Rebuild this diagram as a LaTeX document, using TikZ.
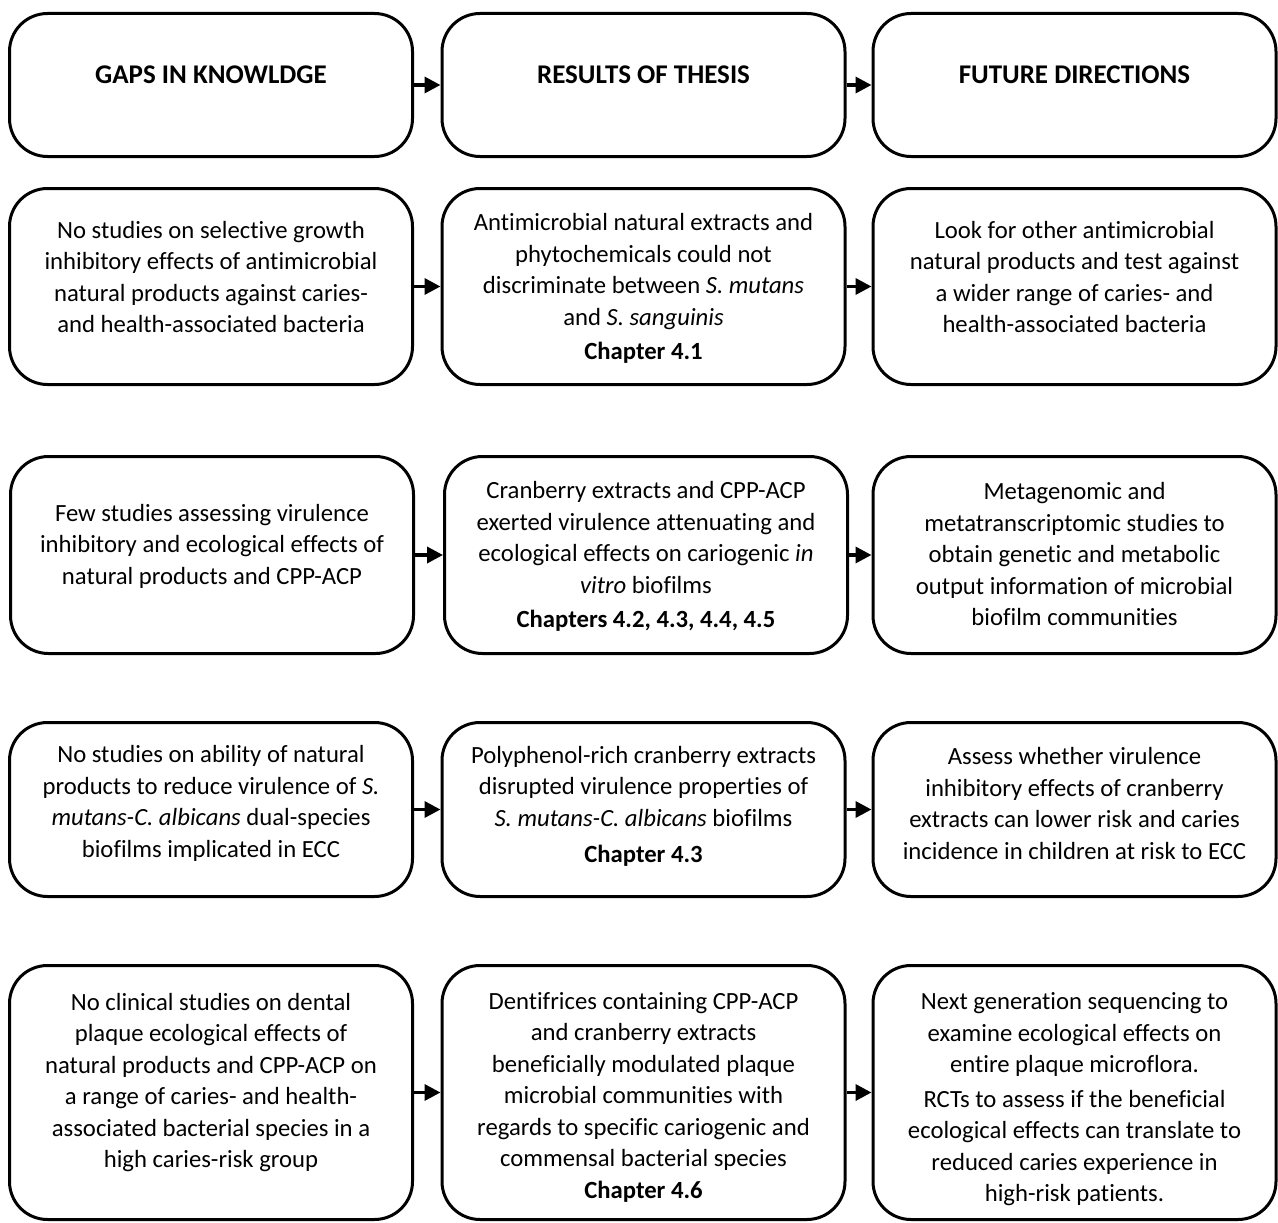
\documentclass[tikz,border=0pt]{standalone}
\usepackage{fontspec}
\setmainfont{Carlito}[Ligatures={NoCommon}]
\usetikzlibrary{arrows.meta}

\begin{document}
\begin{tikzpicture}[x=1pt,y=1pt]
            \tikzstyle{every node}+=[inner sep=0pt]
            \tikzstyle{box}=[draw=black, line width=3pt, rounded corners=38pt, minimum width=403pt]
            \tikzstyle{txt}=[align=center, font=\fontsize{24.7}{31.5}\selectfont]
            \tikzstyle{head}=[font=\fontsize{27}{31.5}\selectfont\bfseries]
            \tikzstyle{link}=[line width=3.5pt, -{Triangle[length=16pt,width=16pt]}]
            \useasboundingbox (0,0) rectangle (1278,-1223);
            % headings
            \node [box, minimum height=143pt] (gaps) at (211,-85) {};
            \node [head] (gapst) at (211,-75) {GAPS IN KNOWLDGE};
            \node [box, minimum height=143pt] (results) at (643.5,-85) {};
            \node [head] (resultst) at (643.5,-75) {RESULTS OF THESIS};
            \node [box, minimum height=143pt] (future) at (1074.5,-85) {};
            \node [head] (futuret) at (1074.5,-75) {FUTURE DIRECTIONS};
            \draw [link] (gaps.east) -- (results.west);
            \draw [link] (results.east) -- (future.west);
            % row 1
            \node [box, minimum height=196pt] (gapA) at (211,-286.5) {};
            \node [txt] (gapAt) at (211,-277) {No studies on selective growth\\inhibitory effects of antimicrobial\\natural products against caries-\\and health-associated bacteria};
            \node [box, minimum height=196pt] (resA) at (643.5,-286.5) {};
            \node [txt] (resAt) at (643.5,-288.5) {Antimicrobial natural extracts and\\phytochemicals could not\\discriminate between \textit{S. mutans}\\and \textit{S. sanguinis}\\[3pt]\textbf{Chapter 4.1}};
            \node [box, minimum height=196pt] (futA) at (1074.5,-286.5) {};
            \node [txt] (futAt) at (1074.5,-277) {Look for other antimicrobial\\natural products and test against\\a wider range of caries- and\\health-associated bacteria};
            \draw [link] (gapA.east) -- (resA.west);
            \draw [link] (resA.east) -- (futA.west);
            % row 2
            \node [box, minimum height=197pt] (gapB) at (212,-555) {};
            \node [txt] (gapBt) at (212,-546) {Few studies assessing virulence\\inhibitory and ecological effects of\\natural products and CPP-ACP};
            \node [box, minimum height=197pt] (resB) at (646,-555) {};
            \node [txt] (resBt) at (646,-556.5) {Cranberry extracts and CPP-ACP\\exerted virulence attenuating and\\ecological effects on cariogenic \textit{in}\\\textit{vitro} biofilms\\[3pt]\textbf{Chapters 4.2, 4.3, 4.4, 4.5}};
            \node [box, minimum height=197pt] (futB) at (1074.5,-555) {};
            \node [txt] (futBt) at (1074.5,-554.5) {Metagenomic and\\metatranscriptomic studies to\\obtain genetic and metabolic\\output information of microbial\\biofilm communities};
            \draw [link] (gapB.east) -- (resB.west);
            \draw [link] (resB.east) -- (futB.west);
            % row 3
            \node [box, minimum height=174pt] (gapC) at (211,-809.5) {};
            \node [txt] (gapCt) at (211,-803.5) {No studies on ability of natural\\products to reduce virulence of \textit{S.}\\\textit{mutans-C. albicans} dual-species\\biofilms implicated in ECC};
            \node [box, minimum height=174pt] (resC) at (643.5,-809.5) {};
            \node [txt] (resCt) at (643.5,-806.5) {Polyphenol-rich cranberry extracts\\disrupted virulence properties of\\\textit{S. mutans-C. albicans} biofilms\\[5pt]\textbf{Chapter 4.3}};
            \node [box, minimum height=174pt] (futC) at (1074.5,-809.5) {};
            \node [txt] (futCt) at (1074.5,-803.5) {Assess whether virulence\\inhibitory effects of cranberry\\extracts can lower risk and caries\\incidence in children at risk to ECC};
            \draw [link] (gapC.east) -- (resC.west);
            \draw [link] (resC.east) -- (futC.west);
            % row 4
            \node [box, minimum height=254pt] (gapD) at (211,-1092.5) {};
            \node [txt] (gapDt) at (211,-1082.5) {No clinical studies on dental\\plaque ecological effects of\\natural products and CPP-ACP on\\a range of caries- and health-\\associated bacterial species in a\\high caries-risk group};
            \node [box, minimum height=254pt] (resD) at (643.5,-1092.5) {};
            \node [txt] (resDt) at (643.5,-1097) {Dentifrices containing CPP-ACP\\and cranberry extracts\\beneficially modulated plaque\\microbial communities with\\regards to specific cariogenic and\\commensal bacterial species\\\textbf{Chapter 4.6}};
            \node [box, minimum height=254pt] (futD) at (1074.5,-1092.5) {};
            \node [txt] (futDt) at (1074.5,-1099.5) {Next generation sequencing to\\examine ecological effects on\\entire plaque microflora.\\[3pt]RCTs to assess if the beneficial\\ecological effects can translate to\\reduced caries experience in\\high-risk patients.};
            \draw [link] (gapD.east) -- (resD.west);
            \draw [link] (resD.east) -- (futD.west);
\end{tikzpicture}
\end{document}
